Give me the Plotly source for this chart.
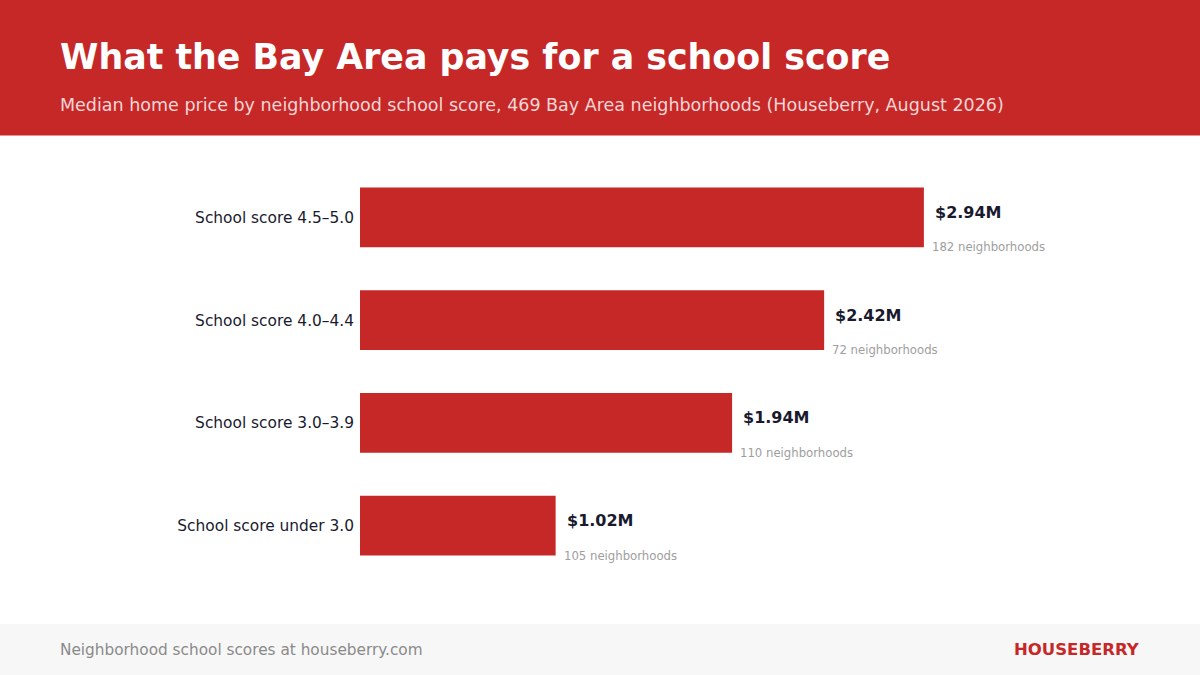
import plotly.graph_objects as go

categories = ["School score under 3.0", "School score 3.0–3.9",
              "School score 4.0–4.4", "School score 4.5–5.0"]
prices = [1.02, 1.94, 2.42, 2.94]  # median price, $M
price_labels = ["$1.02M", "$1.94M", "$2.42M", "$2.94M"]
counts = [105, 110, 72, 182]

RED = "#c62828"
DARK = "#1a1a2e"
FONT = "DejaVu Sans"

W, H = 1200, 675
L, R, T, B = 360, 120, 165.5, 98
PW, PH = W - L - R, H - T - B


# pixel -> paper coords, for the header/footer pieces
def px(x):
    return (x - L) / PW


def py(y):
    return (H - B - y) / PH


fig = go.Figure(go.Bar(
    x=prices, y=categories, orientation="h",
    marker=dict(color=RED, line_width=0), width=0.58,
    hoverinfo="skip",
))

ann = []
for c, p, lab, n in zip(categories, prices, price_labels, counts):
    ann.append(dict(x=p, y=c, xref="x", yref="y", text="<b>%s</b>" % lab,
                    xanchor="left", yanchor="middle", xshift=9, yshift=5,
                    showarrow=False, font=dict(size=16, color=DARK, family=FONT)))
    ann.append(dict(x=p, y=c, xref="x", yref="y", text="%d neighborhoods" % n,
                    xanchor="left", yanchor="middle", xshift=6, yshift=-30,
                    showarrow=False, font=dict(size=11.7, color="#9e9e9e", family=FONT)))

# header / footer text
ann += [
    dict(x=px(58), y=py(56.5), xref="paper", yref="paper", text="<b>What the Bay Area pays for a school score</b>",
         xanchor="left", yanchor="middle", showarrow=False, font=dict(size=34.8, color="white", family=FONT)),
    dict(x=px(58), y=py(104.5), xref="paper", yref="paper",
         text="Median home price by neighborhood school score, 469 Bay Area neighborhoods (Houseberry, August 2026)",
         xanchor="left", yanchor="middle", showarrow=False, font=dict(size=17.5, color="#f6d6d6", family=FONT)),
    dict(x=px(58), y=py(650), xref="paper", yref="paper", text="Neighborhood school scores at houseberry.com",
         xanchor="left", yanchor="middle", showarrow=False, font=dict(size=15.3, color="#8a8a8a", family=FONT)),
    dict(x=px(1142), y=py(650), xref="paper", yref="paper", text="<b>HOUSEBERRY</b>",
         xanchor="right", yanchor="middle", showarrow=False, font=dict(size=16.5, color=RED, family=FONT)),
]

shapes = [
    dict(type="rect", xref="paper", yref="paper", x0=px(-2), x1=px(W + 2), y0=py(135), y1=py(-2),
         fillcolor=RED, line_width=0, layer="below"),
    dict(type="rect", xref="paper", yref="paper", x0=px(-2), x1=px(W + 2), y0=py(H + 2), y1=py(624),
         fillcolor="#f7f7f7", line_width=0, layer="below"),
]

fig.update_layout(
    width=W, height=H,
    margin=dict(l=L, r=R, t=T, b=B),
    paper_bgcolor="white", plot_bgcolor="white",
    showlegend=False,
    xaxis=dict(range=[0, PW / 191.8], visible=False, fixedrange=True),
    yaxis=dict(categoryorder="array", categoryarray=categories, range=[-0.5, 3.5],
               showgrid=False, zeroline=False, showline=False, ticks="", ticklabelstandoff=5,
               tickfont=dict(size=15.4, color=DARK, family=FONT), fixedrange=True),
    annotations=ann, shapes=shapes,
    font=dict(family=FONT),
)

fig.write_html("out.html", config={"displayModeBar": False},
               post_script="document.body.style.margin='0';document.body.style.overflow='hidden';")
